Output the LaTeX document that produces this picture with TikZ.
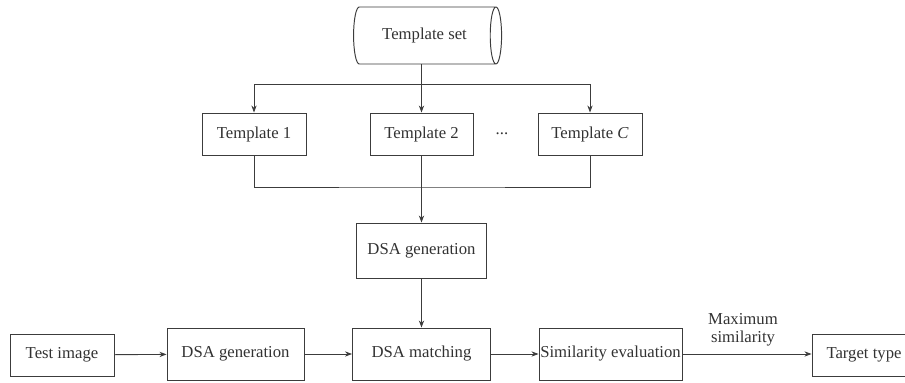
\documentclass[tikz,border=0pt]{standalone}
\usepackage{fontspec}
\setmainfont{Liberation Serif}
\usepackage{tikz}
\usetikzlibrary{shapes.geometric}
\usetikzlibrary{arrows.meta}

\definecolor{linegray}{RGB}{60,60,60}
\definecolor{textgray}{RGB}{50,50,50}

\begin{document}
\begin{tikzpicture}[
  font=\fontsize{9.5}{11}\selectfont,
  box/.style={draw=linegray, line width=0.55pt, text=textgray,
    inner sep=0pt, minimum width=2.08cm, minimum height=0.84cm},
  bigbox/.style={box, minimum height=1.04cm},
  store/.style={cylinder, draw=linegray, line width=0.55pt, text=textgray,
    aspect=0.75, inner sep=0pt, minimum width=1.14cm, minimum height=2.96cm,
    shape border rotate=0},
  arr/.style={draw=linegray, line width=0.5pt,
    -{Stealth[length=4pt,width=3pt]}},
  wire/.style={draw=linegray, line width=0.5pt}
  ]
  \useasboundingbox (0,0) rectangle (18.1,-7.66);
  \clip (0,0) rectangle (18.1,-7.66);

  % template branch
  \node[store] (tset) at (8.49,-0.71) {Template set};
  \node[box] (t1) at (5.08,-2.68) {Template 1};
  \node[box, minimum width=2.06cm] (t2) at (8.43,-2.68) {Template 2};
  \node[box] (tC) at (11.8,-2.68) {Template \textit{C}};
  \node[text=textgray] (dots) at (10.04,-2.68) {...};
  \coordinate (split) at (8.43,-1.68);
  \coordinate (join) at (8.43,-3.74);
  \node[box, minimum width=2.6cm, minimum height=1.1cm] (gen1) at (8.43,-5.01) {DSA generation};

  % matching row
  \node[box] (test) at (1.24,-7.1) {Test image};
  \node[bigbox, minimum width=2.74cm] (gen2) at (4.71,-7.08) {DSA generation};
  \node[bigbox, minimum width=2.76cm] (match) at (8.43,-7.08) {DSA matching};
  \node[bigbox, minimum width=2.86cm] (simil) at (12.21,-7.08) {Similarity evaluation};
  \node[box] (target) at (17.28,-7.1) {Target type};
  \node[text=textgray, align=center] (maxsim) at (14.86,-6.6) {Maximum\\[-1pt]similarity};

  \draw[arr]
    (split |- tset.south)
    --
    (t2.north);
  \draw[arr]
    (split)
    -|
    (t1.north);
  \draw[arr]
    (split)
    -|
    (tC.north);
  \draw[wire]
    (t1.south)
    |-
    (join)
    -|
    (tC.south);
  \draw[wire]
    (t2.south)
    --
    (join);
  \draw[arr]
    (join)
    --
    (gen1.north);
  \draw[arr]
    (gen1.south)
    --
    (match.north);
  \draw[arr] (test) -- (gen2);
  \draw[arr] (gen2) -- (match);
  \draw[arr] (match) -- (simil);
  \draw[arr] (simil.east) -- (simil.east -| target.west);
\end{tikzpicture}
\end{document}
